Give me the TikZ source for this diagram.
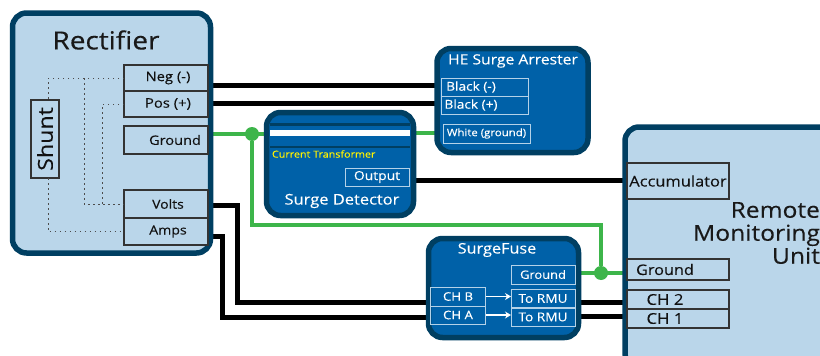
\documentclass[tikz,border=0pt]{standalone}
\usepackage{fontspec}
\setmainfont[FakeStretch=1.12,FakeBold=0.2]{Open Sans}
\usetikzlibrary{backgrounds,arrows.meta}
\definecolor{lightfill}{HTML}{BAD6EA}
\definecolor{darkedge}{HTML}{003F62}
\definecolor{midblue}{HTML}{0061A8}
\definecolor{wiregreen}{HTML}{3DB54A}
\definecolor{paleedge}{HTML}{B4D2E8}
\definecolor{porttext}{HTML}{111111}
\newcommand{\fsz}[1]{\fontsize{#1}{#1}\selectfont}
\tikzset{
  every node/.style={inner sep=0pt,outer sep=0pt},
  unitbox/.style={draw=darkedge,fill=lightfill,line width=5.5pt,rounded corners=14pt},
  modbox/.style={draw=darkedge,fill=midblue,line width=5.5pt,rounded corners=14pt},
  port/.style={draw=black!80,fill=lightfill,line width=1.1pt,text=porttext,font=\fsz{13}},
  wport/.style={draw=paleedge,line width=1pt,text=white,font=\fsz{12.2}},
  title/.style={text=white,font=\fsz{14}},
  blackwire/.style={draw=black,line width=5pt,miter limit=4},
  greenwire/.style={draw=wiregreen,line width=4pt},
  signal/.style={draw=black!70,line width=1pt,dash pattern=on 1.5pt off 3.5pt},
  joint/.style={circle,fill=wiregreen,minimum size=14pt},
  whitearrow/.style={draw=white,line width=1.5pt,-{Stealth[length=6pt,width=7pt]}}
}
\begin{document}
\begin{tikzpicture}[x=1pt,y=-1pt]
\useasboundingbox (0,0) rectangle (820,356);
\clip (0,0) rectangle (820,356);
% main units
\node[unitbox,minimum width=198pt,minimum height=240pt] (rect) at (111.5,133) {};
\node[unitbox,minimum width=240pt,minimum height=240pt] (rmu) at (745,247) {};
\node[font=\fsz{25},text=black!90] (recttitle) at (106,40) {Rectifier};
\node[font=\fontsize{22}{23}\selectfont,text=black!90,align=right,anchor=east] (rmutitle) at (820,233) {Remote\\Monitoring\\Unit};
% rectifier ports
\node[port,minimum width=84pt,minimum height=26pt,font=\fsz{13.2}] (neg) at (166,78) {\hspace*{4pt}Neg (-)};
\node[port,minimum width=84pt,minimum height=26pt,font=\fsz{13.2}] (pos) at (166,104) {\hspace*{4pt}Pos (+)};
\node[port,minimum width=84pt,minimum height=28pt] (gnd) at (166,140) {\hspace*{18pt}Ground};
\node[port,minimum width=84pt,minimum height=28pt,font=\fsz{12.5}] (volts) at (166,204) {\hspace*{4pt}Volts};
\node[port,minimum width=84pt,minimum height=27pt,font=\fsz{12.6}] (amps) at (166,231.5) {\hspace*{4pt}Amps};
\node[port,rotate=90,minimum width=78pt,minimum height=28pt,font=\fsz{20.7}] (shunt) at (45,139) {Shunt};
% surge arrester
\node[modbox,minimum width=151pt,minimum height=104pt] (he) at (512.5,100.5) {};
\node[title] (hetitle) at (513,61) {HE Surge Arrester};
\node[wport,minimum width=87pt,minimum height=18pt] (blackn) at (484.5,87) {\hspace*{-27pt}Black (-)};
\node[wport,minimum width=87pt,minimum height=18pt] (blackp) at (484.5,105) {\hspace*{-27pt}\raisebox{-2pt}{Black (+)}};
\node[wport,minimum width=87pt,minimum height=19pt,font=\fsz{10.2}] (white) at (486.5,133.5) {White (ground)};
% surge detector
\node[modbox,minimum width=147pt,minimum height=103pt] (det) at (340,164) {};
\fill[darkedge] (270,123) rectangle (410,125.5);
\fill[white] (270,130) rectangle (410,136);
\fill[darkedge] (270,145.5) rectangle (410,147.5);
\node[text=yellow,font=\fsz{9.6},anchor=west] (ct) at (272,154) {Current Transformer};
\node[wport,minimum width=64pt,minimum height=18pt,font=\fsz{12.4}] (output) at (377,177) {Output};
\node[title,font=\fsz{14.7}] (dettitle) at (342,201) {Surge Detector};
% surgefuse
\node[modbox,minimum width=150pt,minimum height=99pt] (fuse) at (503.5,288) {};
\node[title,font=\fsz{14.5}] (fusetitle) at (497,250) {SurgeFuse};
\node[wport,minimum width=64pt,minimum height=19pt,font=\fsz{11.5}] (fgnd) at (543,274.5) {Ground};
\node[wport,minimum width=64pt,minimum height=18.5pt] (rmub) at (543,298.5) {To RMU};
\node[wport,minimum width=64pt,minimum height=18pt] (rmua) at (543,317) {To RMU};
\node[wport,minimum width=55pt,minimum height=19pt,font=\fsz{11.8}] (chb) at (458,296.5) {CH B};
\node[wport,minimum width=55pt,minimum height=18pt,font=\fsz{11.8}] (cha) at (458,315) {CH A};
\draw[whitearrow] (chb.east) -- (rmub.west |- chb.east);
\draw[whitearrow] (cha.east) -- (rmua.west |- cha.east);
% rmu ports
\node[port,minimum width=102pt,minimum height=36pt,font=\fsz{14.7}] (acc) at (678,181) {Accumulator};
\node[port,minimum width=102pt,minimum height=21pt,font=\fsz{14.5}] (rgnd) at (678,269.5) {\hspace*{-26pt}Ground};
\node[port,minimum width=102pt,minimum height=19pt,font=\fsz{15}] (ch2) at (678,299.5) {\hspace*{-26pt}CH 2};
\node[port,minimum width=102pt,minimum height=19pt,font=\fsz{15}] (ch1) at (678,318.5) {\hspace*{-26pt}CH 1};
% named connection points
\coordinate (jr) at (252,134);
\coordinate (jm) at (601,273);
\coordinate (wa) at (237,302);
\coordinate (wb) at (222,317);
\coordinate (stop) at (48,100);
\coordinate (sbot) at (48,178);
% internal signal lines
\draw[signal] (neg.west) -| (stop);
\draw[signal] (84,78) |- (volts.west);
\draw[signal] (pos.west) -| (102,204);
\draw[signal] (sbot) |- (amps.west);
% joints
\node[joint] (j1) at (jr) {};
\node[joint] (j2) at (jm) {};
\begin{scope}[on background layer]
\draw[blackwire] (rect.east |- 0,85) -- (he.west |- 0,85);
\draw[blackwire] (rect.east |- 0,103) -- (he.west |- 0,103);
\draw[blackwire] (det.east |- 0,180) -- (rmu.west |- 0,180);
\draw[blackwire] (rect.east |- 0,205) -| (wa) -- (fuse.west |- wa);
\draw[blackwire] (rect.east |- 0,236) -| (wb) -- (fuse.west |- wb);
\draw[blackwire] (fuse.east |- wa) -- (rmu.west |- wa);
\draw[blackwire] (fuse.east |- 0,316) -- (rmu.west |- 0,316);
\draw[greenwire] (rect.east |- jr) -- (det.west |- jr);
\draw[greenwire] (det.east |- 0,133) -- (he.west |- 0,133);
\draw[greenwire] (j1) |- (601,225) -- (j2);
\draw[greenwire] (fuse.east |- jm) -- (rmu.west |- jm);
\end{scope}
\end{tikzpicture}
\end{document}
